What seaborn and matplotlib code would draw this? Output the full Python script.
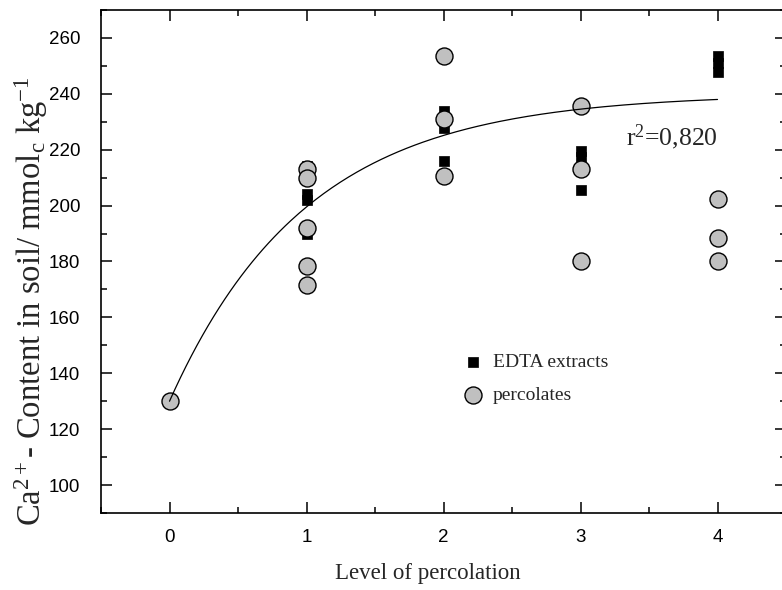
import numpy as np
import pandas as pd
import matplotlib
matplotlib.use("Agg")
import matplotlib.pyplot as plt
import seaborn as sns
from matplotlib.ticker import MultipleLocator

# EDTA extracts (black squares)
edta_level = [1, 1, 1, 1, 2, 2, 2, 3, 3, 3, 4, 4, 4]
edta_ca = [214, 204, 202, 190, 233.7, 227.8, 216, 219.6, 217.5, 205.7, 253.7, 251, 247.8]

# percolates (grey circles)
perc_level = [0, 1, 1, 1, 1, 1, 2, 2, 2, 3, 3, 3, 4, 4, 4]
perc_ca = [130, 213, 210, 192, 178.5, 171.5, 253.5, 231, 210.5, 235.5, 213, 180, 202.5, 188.3, 180.2]

# exponential rise-to-maximum fit: y = a - b * exp(-c * x)
fit_a, fit_b, fit_c = 240.0, 110.0, 1.0
r2_text = "r$^{2}$=0,820"

x_ticks = [0, 1, 2, 3, 4]
y_ticks = [100, 120, 140, 160, 180, 200, 220, 240, 260]

sns.set_theme(style="ticks")
plt.rcParams["font.family"] = ["Liberation Sans", "DejaVu Sans"]
plt.rcParams["mathtext.fontset"] = "custom"
plt.rcParams["mathtext.rm"] = "Liberation Serif"
plt.rcParams["mathtext.it"] = "Liberation Serif:italic"
plt.rcParams["mathtext.bf"] = "Liberation Serif:bold"

W, H = 782, 590
fig = plt.figure(figsize=(W / 100, H / 100), dpi=100)
ax = fig.add_axes([101 / W, 77 / H, (786 - 101) / W, (513 - 10) / H])

df_e = pd.DataFrame({"level": edta_level, "ca": edta_ca})
df_p = pd.DataFrame({"level": perc_level, "ca": perc_ca})

sns.scatterplot(data=df_e, x="level", y="ca", marker="s", s=62, color="black",
                edgecolor="black", linewidth=0.5, ax=ax, label="EDTA extracts", zorder=3)
sns.scatterplot(data=df_p, x="level", y="ca", marker="o", s=150, color="#c0c0c0",
                edgecolor="black", linewidth=1.0, ax=ax, label="percolates", zorder=4)

xf = np.linspace(0, 4, 200)
df_f = pd.DataFrame({"level": xf, "ca": fit_a - fit_b * np.exp(-fit_c * xf)})
sns.lineplot(data=df_f, x="level", y="ca", color="black", linewidth=0.9, ax=ax, zorder=5)

ax.set_xlim(-0.5, 4.5)
ax.set_ylim(90, 270)
ax.set_xticks(x_ticks)
ax.set_yticks(y_ticks)
ax.xaxis.set_minor_locator(MultipleLocator(0.5))
ax.yaxis.set_minor_locator(MultipleLocator(10))
ax.tick_params(which="both", direction="in", top=True, right=True, width=1.1,
               labelsize=13.5, colors="black")
ax.tick_params(axis="x", which="major", pad=11.5)
ax.tick_params(axis="y", which="major", pad=15)
ax.tick_params(which="major", length=8)
ax.tick_params(which="minor", length=4.5)
for sp in ax.spines.values():
    sp.set_linewidth(1.2)
    sp.set_color("black")

serif = ["Liberation Serif", "DejaVu Serif"]
ax.set_xlabel("Level of percolation", fontsize=16.5, family=serif)
ax.set_ylabel("Ca$^{2+}$- Content in soil/ mmol$_{\\mathrm{c}}$ kg$^{-1}$", fontsize=23.5, family=serif)
ax.xaxis.set_label_coords((428 - 101) / 685, -(574 - 513) / 503)
ax.xaxis.label.set_va("center")
ax.yaxis.set_label_coords((31 - 101) / 685, (513 - 301) / 503)
ax.yaxis.label.set_va("center")

ax.text(626, 590 - 137, r2_text, transform=None, fontsize=18.5, family=serif,
        ha="left", va="center")

leg = ax.legend(loc="upper left", bbox_to_anchor=((461 - 101) / 685, (513 - 353) / 503),
                frameon=False, prop={"family": serif, "size": 14},
                handlelength=1.2, handletextpad=0.45, labelspacing=0.8,
                borderpad=0, borderaxespad=0)

fig.savefig("out.png", dpi=100)
